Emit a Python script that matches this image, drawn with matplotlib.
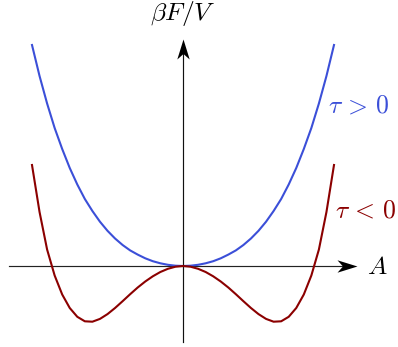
import matplotlib
matplotlib.use("Agg")
import matplotlib.pyplot as plt
from matplotlib.path import Path

plt.rcParams['mathtext.fontset'] = 'cm'

# order parameter A (horizontal) and free energy beta F / V (vertical)
A_vals = [-1.0, -0.95, -0.9, -0.85, -0.8, -0.75, -0.7, -0.65, -0.6, -0.55, -0.5,
          -0.45, -0.4, -0.35, -0.3, -0.25, -0.2, -0.15, -0.1, -0.05, 0.0,
          0.05, 0.1, 0.15, 0.2, 0.25, 0.3, 0.35, 0.4, 0.45, 0.5,
          0.55, 0.6, 0.65, 0.7, 0.75, 0.8, 0.85, 0.9, 0.95, 1.0]
F_tau_pos = [2.21, 1.90, 1.625, 1.38, 1.17, 0.98, 0.815, 0.67, 0.55, 0.443, 0.352,
             0.275, 0.21, 0.156, 0.114, 0.077, 0.048, 0.027, 0.012, 0.003, 0.0,
             0.003, 0.012, 0.027, 0.048, 0.077, 0.114, 0.156, 0.21, 0.275, 0.352,
             0.443, 0.55, 0.67, 0.815, 0.98, 1.17, 1.38, 1.625, 1.90, 2.21]
F_tau_neg = [1.01, 0.54, 0.165, -0.095, -0.285, -0.42, -0.508, -0.553, -0.557, -0.529, -0.481,
             -0.420, -0.352, -0.282, -0.215, -0.155, -0.103, -0.060, -0.028, -0.007, 0.0,
             -0.007, -0.028, -0.060, -0.103, -0.155, -0.215, -0.282, -0.352, -0.420, -0.481,
             -0.529, -0.557, -0.553, -0.508, -0.42, -0.285, -0.095, 0.165, 0.54, 1.01]

label_pos = r'$\tau\, >\, 0$'
label_neg = r'$\tau\, <\, 0$'
xlabel = r'$A$'
ylabel = r'$\beta F/V$'

blue = '#3b4fd8'
red = '#8b0000'

W, H = 398, 347
fig = plt.figure(figsize=(W / 100, H / 100), dpi=100)
ax = fig.add_axes([0, 0, 1, 1])
ax.set_axis_off()

# pixel mapping: origin at (183, 266); 151 px per unit in A, 100 px per unit in F
x0, y0, sx, sy = 183.0, 266.0, 151.0, 100.0
ax.set_xlim(-x0 / sx, (W - x0) / sx)
ax.set_ylim((y0 - H) / sy, y0 / sy)

# axes with stealth arrows
xa0, xa1 = (9.3 - x0) / sx, (356.7 - x0) / sx
ya0, ya1 = (y0 - 341.7) / sy, (y0 - 39.3) / sy
head_px = 20.0
ax.plot([xa0, xa1 - 0.5 * head_px / sx], [0, 0], color='#222222', lw=0.85, zorder=1)
ax.plot([0, 0], [ya0, ya1 - 0.5 * head_px / sy], color='#111111', lw=0.85, zorder=1)

right_head = Path([(1, 0), (-1, 0.62), (-0.45, 0), (-1, -0.62), (1, 0)],
                  [Path.MOVETO, Path.LINETO, Path.LINETO, Path.LINETO, Path.CLOSEPOLY])
up_head = Path([(0, 1), (0.62, -1), (0, -0.45), (-0.62, -1), (0, 1)],
               [Path.MOVETO, Path.LINETO, Path.LINETO, Path.LINETO, Path.CLOSEPOLY])
ms = head_px * 72 / 100
ax.plot([xa1 - 0.5 * head_px / sx], [0], marker=right_head, ms=ms, color='black',
        mew=0, linestyle='none', zorder=3)
ax.plot([0], [ya1 - 0.5 * head_px / sy], marker=up_head, ms=ms, color='black',
        mew=0, linestyle='none', zorder=3)

# curves
ax.plot(A_vals, F_tau_pos, color=blue, lw=1.5, solid_joinstyle='round', zorder=2)
ax.plot(A_vals, F_tau_neg, color=red, lw=1.5, solid_joinstyle='round', zorder=2)

# labels
ax.text((182.5 - x0) / sx, (y0 - 13) / sy, ylabel, fontsize=18.5, ha='center', va='center')
ax.text((377 - x0) / sx, (y0 - 267) / sy, xlabel, fontsize=18.5, ha='center', va='center')
ax.text((328 - x0) / sx, (y0 - 106) / sy, label_pos, fontsize=18.5, ha='left', va='center', color=blue)
ax.text((335 - x0) / sx, (y0 - 210) / sy, label_neg, fontsize=18.5, ha='left', va='center', color=red)

fig.savefig('out.png', dpi=100)
